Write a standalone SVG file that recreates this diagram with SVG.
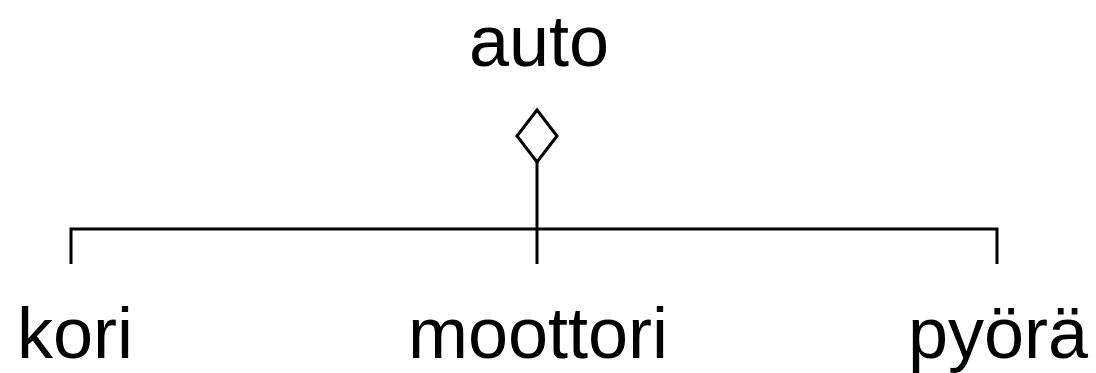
<svg xmlns="http://www.w3.org/2000/svg" width="1096" height="373" viewBox="0 0 1096 373">
<style>
.t{font-family:"Liberation Sans",Arial,sans-serif;font-size:72px;fill:#000}
.l{stroke:#000;stroke-width:3;fill:none}
</style>
<rect width="1096" height="373" fill="#fff"/>
<g id="auto"><text class="t" x="539" y="66" text-anchor="middle">auto</text></g>
<g id="connectors">
<polygon class="l" points="537,110 557,136 537,162 517,136" fill="#fff"/>
<line class="l" x1="537" y1="162" x2="537" y2="264"/>
<polyline class="l" points="71,264 71,229 997,229 997,264"/>
</g>
<g id="kori"><text class="t" x="17" y="358">kori</text></g>
<g id="moottori"><text class="t" x="538" y="358" text-anchor="middle">moottori</text></g>
<g id="pyora"><text class="t" x="908" y="358">pyörä</text></g>
</svg>
